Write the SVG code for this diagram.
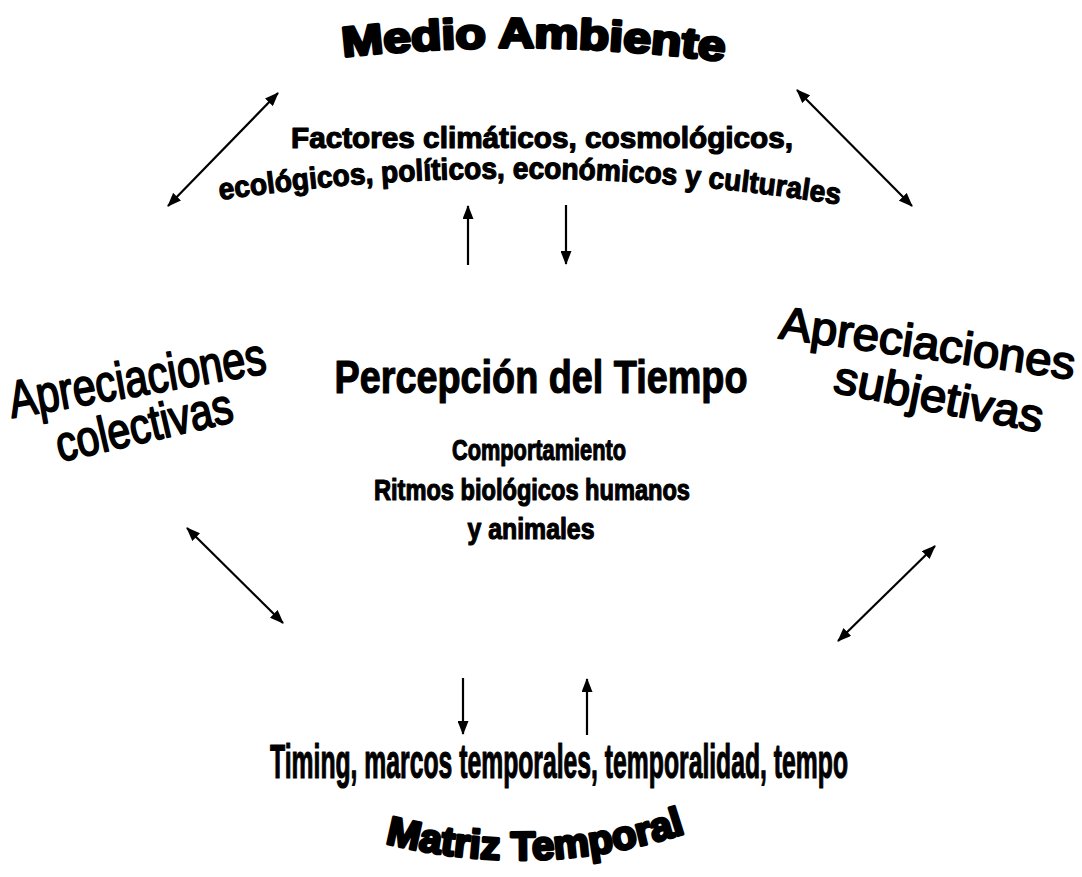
<svg xmlns="http://www.w3.org/2000/svg" width="1082" height="877" viewBox="0 0 1082 877">
<style>
.heavy{font-family:"Liberation Sans",Arial,sans-serif;font-weight:900;fill:#000;stroke:#000;stroke-width:3;stroke-linejoin:round}
.bold{font-family:"Liberation Sans",Arial,sans-serif;font-weight:bold;fill:#000;stroke:#000;stroke-width:1.2;stroke-linejoin:round}
.reg{font-family:"Liberation Sans",Arial,sans-serif;fill:#000;stroke:#000;stroke-width:1.8;stroke-linejoin:round}
.conn line{stroke:#000;stroke-width:2.2}
</style>
<defs>
<marker id="ah" viewBox="0 0 14 11" refX="13" refY="5.5" markerWidth="14" markerHeight="11" markerUnits="userSpaceOnUse" orient="auto-start-reverse">
<path d="M0,0 L14,5.5 L0,11 z" fill="#000"/>
</marker>
<path id="pMedio" d="M343,57 Q535,36 728,62"/>
<path id="pEco" d="M220,200 Q532,154 847,206"/>
<path id="pMatriz" d="M385,843 Q540,882 692,831"/>
</defs>
<rect width="1082" height="877" fill="#fff"/>

<g id="medio-ambiente">
<text class="heavy" font-size="42"><textPath href="#pMedio" textLength="382" lengthAdjust="spacingAndGlyphs">Medio Ambiente</textPath></text>
</g>

<g id="factores">
<text class="bold" font-size="30" x="542" y="148" text-anchor="middle" textLength="502" lengthAdjust="spacingAndGlyphs">Factores climáticos, cosmológicos,</text>
<text class="bold" font-size="30"><textPath href="#pEco" textLength="622" lengthAdjust="spacingAndGlyphs">ecológicos, políticos, económicos y culturales</textPath></text>
</g>

<g id="apreciaciones-colectivas">
<text class="reg" font-size="52" x="12" y="418" transform="rotate(-10 12 418)" textLength="260" lengthAdjust="spacingAndGlyphs">Apreciaciones</text>
<text class="reg" font-size="50" x="60" y="462" transform="rotate(-13 60 462)" textLength="180" lengthAdjust="spacingAndGlyphs">colectivas</text>
</g>

<g id="apreciaciones-subjetivas">
<text class="reg" font-size="46" x="778" y="338" transform="rotate(8 778 338)" textLength="298" lengthAdjust="spacingAndGlyphs">Apreciaciones</text>
<text class="reg" font-size="46" x="832" y="392" transform="rotate(11 832 392)" textLength="212" lengthAdjust="spacingAndGlyphs">subjetivas</text>
</g>

<g id="percepcion">
<text class="bold" font-size="46" x="541" y="393" text-anchor="middle" textLength="413" lengthAdjust="spacingAndGlyphs" stroke-width="2.2">Percepción del Tiempo</text>
<text class="bold" font-size="30" x="539" y="460" text-anchor="middle" textLength="174" lengthAdjust="spacingAndGlyphs">Comportamiento</text>
<text class="bold" font-size="30" x="532" y="500" text-anchor="middle" textLength="316" lengthAdjust="spacingAndGlyphs">Ritmos biológicos humanos</text>
<text class="bold" font-size="30" x="531" y="539" text-anchor="middle" textLength="127" lengthAdjust="spacingAndGlyphs">y animales</text>
</g>

<g id="timing">
<text class="bold" font-size="48" x="270" y="778" textLength="578" lengthAdjust="spacingAndGlyphs">Timing, marcos temporales, temporalidad, tempo</text>
</g>

<g id="matriz-temporal">
<text class="heavy" font-size="40"><textPath href="#pMatriz" textLength="305" lengthAdjust="spacingAndGlyphs">Matriz Temporal</textPath></text>
</g>

<g id="connectors" class="conn">
<line x1="168" y1="206" x2="278" y2="93" marker-start="url(#ah)" marker-end="url(#ah)"/>
<line x1="797" y1="90" x2="912" y2="206" marker-start="url(#ah)" marker-end="url(#ah)"/>
<line x1="468" y1="265" x2="468" y2="206" marker-end="url(#ah)"/>
<line x1="566" y1="205" x2="566" y2="264" marker-end="url(#ah)"/>
<line x1="187" y1="528" x2="283" y2="623" marker-start="url(#ah)" marker-end="url(#ah)"/>
<line x1="935" y1="546" x2="838" y2="641" marker-start="url(#ah)" marker-end="url(#ah)"/>
<line x1="463" y1="678" x2="463" y2="734" marker-end="url(#ah)"/>
<line x1="587" y1="735" x2="587" y2="679" marker-end="url(#ah)"/>
</g>
</svg>
